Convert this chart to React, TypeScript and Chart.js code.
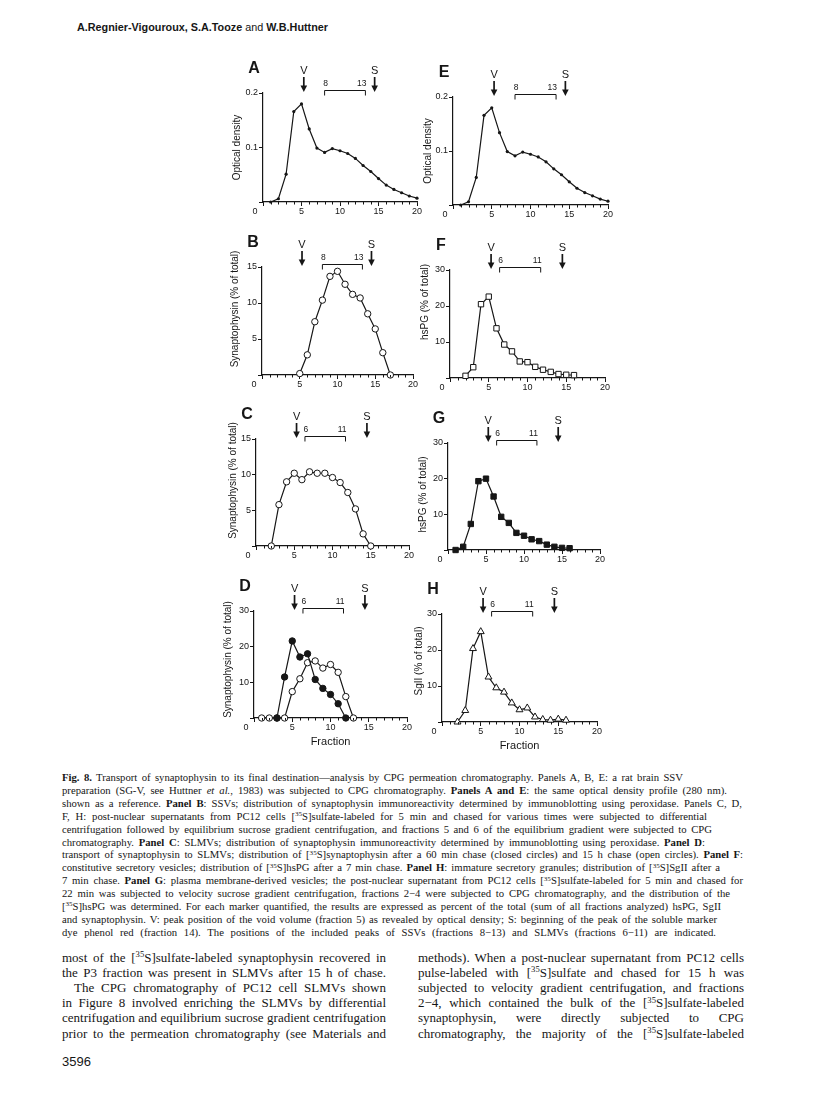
import React, { useEffect, useRef } from "react";
import { Chart, registerables } from "chart.js";

Chart.register(...registerables);

const INK = "#161616";
const SANS = '"Liberation Sans", Arial, Helvetica, sans-serif';
const SERIF = '"Liberation Serif", "Times New Roman", serif';

// ---------- data ----------
const xTickValues = [0, 5, 10, 15, 20];
const odTickValues = [0, 0.1, 0.2];
const pct15TickValues = [0, 5, 10, 15];
const pct30TickValues = [0, 10, 20, 30];

const fractionsOD = [1, 2, 3, 4, 5, 6, 7, 8, 9, 10, 11, 12, 13, 14, 15, 16, 17, 18, 19, 20];
const opticalDensity = [0, 0.006, 0.051, 0.166, 0.18, 0.134, 0.099, 0.091, 0.098, 0.094, 0.089, 0.08, 0.067, 0.056, 0.043, 0.031, 0.023, 0.017, 0.011, 0.007];

const fractionsB = [5, 6, 7, 8, 9, 10, 11, 12, 13, 14, 15, 16, 17];
const synaptophysinSSV = [0.2, 2.8, 7.4, 10.4, 13.7, 14.4, 12.6, 11.2, 10.7, 8.5, 6.4, 3.1, 0];

const fractionsC = [2, 3, 4, 5, 6, 7, 8, 9, 10, 11, 12, 13, 14, 15];
const synaptophysinSLMV = [0, 5.8, 9.0, 10.2, 9.3, 10.4, 10.2, 10.2, 9.6, 8.9, 7.5, 5.2, 1.7, 0];

const fractionsD60min = [3, 4, 5, 6, 7, 8, 9, 10, 11, 12];
const synaptophysin60min = [0, 11.5, 21.6, 17.1, 18.0, 10.8, 8.3, 6.6, 4.0, 0];
const fractionsD15h = [1, 2, 3, 4, 5, 6, 7, 8, 9, 10, 11, 12, 13];
const synaptophysin15h = [0, 0, 0, 0, 7.4, 11.0, 15.5, 16.0, 14.0, 15.0, 12.8, 6.0, 0];

const fractionsF = [2, 3, 4, 5, 6, 7, 8, 9, 10, 11, 12, 13, 14, 15, 16];
const hsPG7min = [0.6, 3.0, 20.5, 22.6, 13.8, 9.3, 7.4, 4.6, 4.4, 3.1, 2.3, 1.7, 1.1, 0.9, 0.8];

const fractionsG = [1, 2, 3, 4, 5, 6, 7, 8, 9, 10, 11, 12, 13, 14, 15, 16];
const hsPGPlasmaMembrane = [0, 0.9, 7.3, 19.3, 20.0, 15.0, 9.3, 7.6, 4.8, 4.0, 3.0, 2.5, 1.5, 0.9, 0.6, 0.5];

const fractionsH = [2, 3, 4, 5, 6, 7, 8, 9, 10, 11, 12, 13, 14, 15, 16];
const sgII7min = [0, 3.2, 20.4, 25.1, 12.5, 9.5, 8.3, 5.3, 3.4, 3.9, 1.4, 0.7, 0.5, 0.8, 0.5];

const voidFraction = 5.3;
const solubleFraction = 14.5;
const ssvPeak = { from: 8, to: 13.3, labels: ["8", "13"] };
const slmvPeak = { from: 6.4, to: 11.7, labels: ["6", "11"] };

// ---------- layout constants ----------
const YW = 46;
const TOPPAD = 40;
const RIGHTPAD = 12;
const XH = 34;

type Style = "dot" | "openCircle" | "filledCircle" | "openSquare" | "filledSquare" | "openTriangle";
type Series = { x: number[]; y: number[]; style: Style };
type PanelCfg = {
  letter: string;
  box: [number, number, number, number];
  yMax: number;
  yTicks: number[];
  yFmt: (v: number) => string;
  yTitle: string;
  yTitleShift: [number, number];
  series: Series[];
  bracket: { from: number; to: number; labels: string[] };
  xTitle?: string;
};

const odFmt = (v: number) => v.toFixed(1);
const intFmt = (v: number) => String(v);

const PANELS: PanelCfg[] = [
  { letter: "A", box: [263, 93, 417, 202], yMax: 0.2, yTicks: odTickValues, yFmt: odFmt, yTitle: "Optical density", yTitleShift: [-26, 0], series: [{ x: fractionsOD, y: opticalDensity, style: "dot" }], bracket: ssvPeak },
  { letter: "E", box: [453, 97, 608, 205], yMax: 0.2, yTicks: odTickValues, yFmt: odFmt, yTitle: "Optical density", yTitleShift: [-25, 0], series: [{ x: fractionsOD, y: opticalDensity, style: "dot" }], bracket: ssvPeak },
  { letter: "B", box: [262, 267, 413, 375], yMax: 15, yTicks: pct15TickValues, yFmt: intFmt, yTitle: "Synaptophysin (% of total)", yTitleShift: [-27, -12], series: [{ x: fractionsB, y: synaptophysinSSV, style: "openCircle" }], bracket: ssvPeak },
  { letter: "F", box: [450, 270, 605, 378], yMax: 30, yTicks: pct30TickValues, yFmt: intFmt, yTitle: "hsPG (% of total)", yTitleShift: [-25, -22], series: [{ x: fractionsF, y: hsPG7min, style: "openSquare" }], bracket: slmvPeak },
  { letter: "C", box: [256, 439, 409, 546], yMax: 15, yTicks: pct15TickValues, yFmt: intFmt, yTitle: "Synaptophysin (% of total)", yTitleShift: [-23, -12], series: [{ x: fractionsC, y: synaptophysinSLMV, style: "openCircle" }], bracket: slmvPeak },
  { letter: "G", box: [448, 443, 600, 550], yMax: 30, yTicks: pct30TickValues, yFmt: intFmt, yTitle: "hsPG (% of total)", yTitleShift: [-25, -2], series: [{ x: fractionsG, y: hsPGPlasmaMembrane, style: "filledSquare" }], bracket: slmvPeak },
  {
    letter: "D", box: [254, 611, 407, 718], yMax: 30, yTicks: pct30TickValues, yFmt: intFmt, yTitle: "Synaptophysin (% of total)", yTitleShift: [-26, -5],
    series: [
      { x: fractionsD60min, y: synaptophysin60min, style: "filledCircle" },
      { x: fractionsD15h, y: synaptophysin15h, style: "openCircle" },
    ],
    bracket: slmvPeak, xTitle: "Fraction",
  },
  { letter: "H", box: [442, 614, 597, 722], yMax: 30, yTicks: pct30TickValues, yFmt: intFmt, yTitle: "SgII (% of total)", yTitleShift: [-23, -7], series: [{ x: fractionsH, y: sgII7min, style: "openTriangle" }], bracket: slmvPeak, xTitle: "Fraction" },
];

function pointProps(style: Style) {
  switch (style) {
    case "dot": return { pointStyle: "circle", pointRadius: 1.6, pointBackgroundColor: INK, pointBorderWidth: 0 };
    case "openCircle": return { pointStyle: "circle", pointRadius: 3.2, pointBackgroundColor: "#fff", pointBorderWidth: 1 };
    case "filledCircle": return { pointStyle: "circle", pointRadius: 3.2, pointBackgroundColor: INK, pointBorderWidth: 1 };
    case "openSquare": return { pointStyle: "rect", pointRadius: 3.8, pointBackgroundColor: "#fff", pointBorderWidth: 1 };
    case "filledSquare": return { pointStyle: "rect", pointRadius: 3.8, pointBackgroundColor: INK, pointBorderWidth: 1 };
    case "openTriangle": return { pointStyle: "triangle", pointRadius: 4, pointBackgroundColor: "#fff", pointBorderWidth: 1 };
  }
}

function drawArrow(ctx: CanvasRenderingContext2D, x: number, y0: number, y1: number) {
  ctx.lineWidth = 1.7;
  ctx.beginPath();
  ctx.moveTo(x, y0);
  ctx.lineTo(x, y1 - 5);
  ctx.stroke();
  ctx.beginPath();
  ctx.moveTo(x - 3.3, y1 - 6.5);
  ctx.lineTo(x + 3.3, y1 - 6.5);
  ctx.lineTo(x, y1);
  ctx.closePath();
  ctx.fill();
}

function marksPlugin(cfg: PanelCfg) {
  return {
    id: "panelMarks",
    afterDraw(chart: any) {
      const { ctx, chartArea: ca, scales } = chart;
      const xs = scales.x;
      ctx.save();
      ctx.fillStyle = INK;
      ctx.strokeStyle = INK;
      // minor ticks on the fraction axis
      ctx.lineWidth = 1;
      const lo = xTickValues[0];
      const hi = xTickValues[xTickValues.length - 1];
      for (let f = lo + 1; f < hi; f++) {
        if (xTickValues.includes(f)) continue;
        const px = Math.round(xs.getPixelForValue(f)) + 0.5;
        ctx.beginPath();
        ctx.moveTo(px, ca.bottom);
        ctx.lineTo(px, ca.bottom + 2.5);
        ctx.stroke();
      }
      // y-axis title
      ctx.save();
      ctx.translate(ca.left + cfg.yTitleShift[0], (ca.top + ca.bottom) / 2 + cfg.yTitleShift[1]);
      ctx.rotate(-Math.PI / 2);
      ctx.font = `10px ${SANS}`;
      ctx.textAlign = "center";
      ctx.textBaseline = "middle";
      ctx.fillText(cfg.yTitle, 0, 0);
      ctx.restore();
      // shared origin label
      ctx.font = `9px ${SANS}`;
      ctx.textAlign = "center";
      ctx.textBaseline = "middle";
      ctx.fillText(String(xTickValues[0]), ca.left - 8, ca.bottom + 9.5);
      // panel letter
      ctx.font = `bold 16px ${SANS}`;
      ctx.fillText(cfg.letter, ca.left - 9, ca.top - 24);
      // V and S markers
      ctx.font = `11px ${SANS}`;
      const vx = xs.getPixelForValue(voidFraction);
      const sx = xs.getPixelForValue(solubleFraction);
      ctx.fillText("V", vx, ca.top - 22);
      ctx.fillText("S", sx, ca.top - 22);
      drawArrow(ctx, vx, ca.top - 16, ca.top - 1);
      drawArrow(ctx, sx, ca.top - 16, ca.top - 1);
      // peak bracket
      const b0 = xs.getPixelForValue(cfg.bracket.from);
      const b1 = xs.getPixelForValue(cfg.bracket.to);
      const by = Math.round(ca.top - 3) + 0.5;
      ctx.lineWidth = 1;
      ctx.beginPath();
      ctx.moveTo(b0, by + 5);
      ctx.lineTo(b0, by);
      ctx.lineTo(b1, by);
      ctx.lineTo(b1, by + 5);
      ctx.stroke();
      ctx.font = `8.5px ${SANS}`;
      ctx.textAlign = "center";
      ctx.fillText(cfg.bracket.labels[0], b0 + 1, by - 7);
      ctx.textAlign = "right";
      ctx.fillText(cfg.bracket.labels[1], b1 + 1, by - 7);
      ctx.restore();
    },
  };
}

function Panel({ cfg }: { cfg: PanelCfg }) {
  const ref = useRef<HTMLCanvasElement | null>(null);
  const [l, t, r, b] = cfg.box;
  const width = YW + (r - l) + RIGHTPAD;
  const height = TOPPAD + (b - t) + XH;

  useEffect(() => {
    if (!ref.current) return;
    const datasets = cfg.series.map((s) => ({
      data: s.x.map((x, i) => ({ x, y: s.y[i] })),
      borderColor: INK,
      borderWidth: 1.2,
      pointBorderColor: INK,
      tension: 0,
      clip: false as any,
      ...pointProps(s.style),
    }));
    const tickFont = { family: SANS, size: 9 };
    const chart = new Chart(ref.current, {
      type: "line",
      data: { datasets: datasets as any },
      options: {
        animation: false,
        responsive: false,
        events: [],
        layout: { padding: { left: 0, top: TOPPAD, right: RIGHTPAD, bottom: 0 } },
        plugins: { legend: { display: false }, tooltip: { enabled: false } },
        scales: {
          x: {
            type: "linear",
            min: xTickValues[0],
            max: xTickValues[xTickValues.length - 1],
            afterBuildTicks: (s: any) => { s.ticks = xTickValues.map((v) => ({ value: v })); },
            afterFit: (s: any) => { s.height = XH; },
            ticks: {
              callback: (v: any) => (v === xTickValues[0] ? "" : String(v)),
              font: tickFont, color: INK, padding: 0, maxRotation: 0, autoSkip: false,
            },
            grid: { drawOnChartArea: false, drawTicks: true, tickLength: 4, color: INK, lineWidth: 1 },
            border: { display: true, color: INK, width: 1.2 },
            title: cfg.xTitle
              ? { display: true, text: cfg.xTitle, font: { family: SANS, size: 11 }, color: INK, padding: { top: 0, bottom: 3.4 } }
              : { display: false },
          },
          y: {
            type: "linear",
            min: 0,
            max: cfg.yMax,
            afterBuildTicks: (s: any) => { s.ticks = cfg.yTicks.map((v) => ({ value: v })); },
            afterFit: (s: any) => { s.width = YW; },
            ticks: {
              callback: (v: any) => (v === 0 ? "" : cfg.yFmt(Number(v))),
              font: tickFont, color: INK, padding: 1,
            },
            grid: { drawOnChartArea: false, drawTicks: true, tickLength: 4, color: INK, lineWidth: 1 },
            border: { display: true, color: INK, width: 1.2 },
            title: { display: false },
          },
        },
      },
      plugins: [marksPlugin(cfg)],
    } as any);
    return () => chart.destroy();
  }, []);

  return (
    <canvas
      ref={ref}
      width={width}
      height={height}
      style={{ position: "absolute", left: l - YW, top: t - TOPPAD, width, height }}
    />
  );
}

// ---------- page text ----------
function rich(s: string) {
  const out: any[] = [];
  let bold = false, ital = false, sup = false, buf = "", k = 0;
  const flush = () => {
    if (!buf) return;
    const st: any = { fontWeight: bold ? "bold" : "normal", fontStyle: ital ? "italic" : "normal" };
    if (sup) Object.assign(st, { fontSize: "0.66em", position: "relative", top: "-0.5em" });
    out.push(<span key={k++} style={st}>{buf}</span>);
    buf = "";
  };
  for (const ch of s) {
    if (ch === "*") { flush(); bold = !bold; }
    else if (ch === "_") { flush(); ital = !ital; }
    else if (ch === "^") { flush(); sup = !sup; }
    else buf += ch;
  }
  flush();
  return out;
}

const captionLines = [
  "*Fig. 8.* Transport of synaptophysin to its final destination—analysis by CPG permeation chromatography. Panels A, B, E: a rat brain SSV",
  "preparation (SG-V, see Huttner _et al._, 1983) was subjected to CPG chromatography. *Panels A and E*: the same optical density profile (280 nm).",
  "shown as a reference. *Panel B*: SSVs; distribution of synaptophysin immunoreactivity determined by immunoblotting using peroxidase. Panels C, D,",
  "F, H: post-nuclear supernatants from PC12 cells [^35^S]sulfate-labeled for 5 min and chased for various times were subjected to differential",
  "centrifugation followed by equilibrium sucrose gradient centrifugation, and fractions 5 and 6 of the equilibrium gradient were subjected to CPG",
  "chromatography. *Panel C*: SLMVs; distribution of synaptophysin immunoreactivity determined by immunoblotting using peroxidase. *Panel D*:",
  "transport of synaptophysin to SLMVs; distribution of [^35^S]synaptophysin after a 60 min chase (closed circles) and 15 h chase (open circles). *Panel F*:",
  "constitutive secretory vesicles; distribution of [^35^S]hsPG after a 7 min chase. *Panel H*: immature secretory granules; distribution of [^35^S]SgII after a",
  "7 min chase. *Panel G*: plasma membrane-derived vesicles; the post-nuclear supernatant from PC12 cells [^35^S]sulfate-labeled for 5 min and chased for",
  "22 min was subjected to velocity sucrose gradient centrifugation, fractions 2−4 were subjected to CPG chromatography, and the distribution of the",
  "[^35^S]hsPG was determined. For each marker quantified, the results are expressed as percent of the total (sum of all fractions analyzed) hsPG, SgII",
  "and synaptophysin. V: peak position of the void volume (fraction 5) as revealed by optical density; S: beginning of the peak of the soluble marker",
  "dye phenol red (fraction 14). The positions of the included peaks of SSVs (fractions 8−13) and SLMVs (fractions 6−11) are indicated.",
];
const captionLineEnds = [683, 727, 742, 707, 712, 705, 743, 720, 743, 730, 721, 717, 716];

const leftColumnLines = [
  "most of the [^35^S]sulfate-labeled synaptophysin recovered in",
  "the P3 fraction was present in SLMVs after 15 h of chase.",
  "The CPG chromatography of PC12 cell SLMVs shown",
  "in Figure 8 involved enriching the SLMVs by differential",
  "centrifugation and equilibrium sucrose gradient centrifugation",
  "prior to the permeation chromatography (see Materials and",
];
const rightColumnLines = [
  "methods). When a post-nuclear supernatant from PC12 cells",
  "pulse-labeled with [^35^S]sulfate and chased for 15 h was",
  "subjected to velocity gradient centrifugation, and fractions",
  "2−4, which contained the bulk of the [^35^S]sulfate-labeled",
  "synaptophysin, were directly subjected to CPG",
  "chromatography, the majority of the [^35^S]sulfate-labeled",
];

function Line({ text, x, y, w, size, lh, family, justify = true }: any) {
  return (
    <div
      style={{
        position: "absolute", left: x, top: y - lh / 2, width: w, height: lh, lineHeight: `${lh}px`,
        fontSize: size, fontFamily: family, color: INK, whiteSpace: "nowrap",
        textAlign: justify ? "justify" : "left", textAlignLast: justify ? "justify" : "left",
      } as any}
    >
      {rich(text)}
    </div>
  );
}

export default function App() {
  const CAP_Y0 = 777, CAP_DY = 12.9;
  const BODY_Y0 = 957, BODY_DY = 15.2;
  return (
    <div style={{ position: "absolute", left: 0, top: 0, width: 816, height: 1113, background: "#fff", overflow: "hidden" }}>
      <div style={{ position: "absolute", left: 77, top: 20, fontFamily: SANS, fontSize: 10.8, fontWeight: "bold", color: INK, whiteSpace: "nowrap", lineHeight: "14px" }}>
        A.Regnier-Vigouroux, S.A.Tooze <span style={{ fontWeight: "normal" }}>and</span> W.B.Huttner
      </div>
      {PANELS.map((p) => <Panel key={p.letter} cfg={p} />)}
      {captionLines.map((t, i) => (
        <Line key={"c" + i} text={t} x={62} y={CAP_Y0 + i * CAP_DY} w={captionLineEnds[i] - 62} size={10.7} lh={12} family={SERIF} />
      ))}
      {leftColumnLines.map((t, i) => (
        <Line key={"l" + i} text={t} x={i === 2 ? 74 : 62} y={BODY_Y0 + i * BODY_DY} w={i === 2 ? 312 : 324} size={13} lh={15} family={SERIF} />
      ))}
      {rightColumnLines.map((t, i) => (
        <Line key={"r" + i} text={t} x={418} y={BODY_Y0 + i * BODY_DY} w={326} size={13} lh={15} family={SERIF} />
      ))}
      <div style={{ position: "absolute", left: 62, top: 1055, fontFamily: SANS, fontSize: 13, color: INK, lineHeight: "14px" }}>3596</div>
    </div>
  );
}
